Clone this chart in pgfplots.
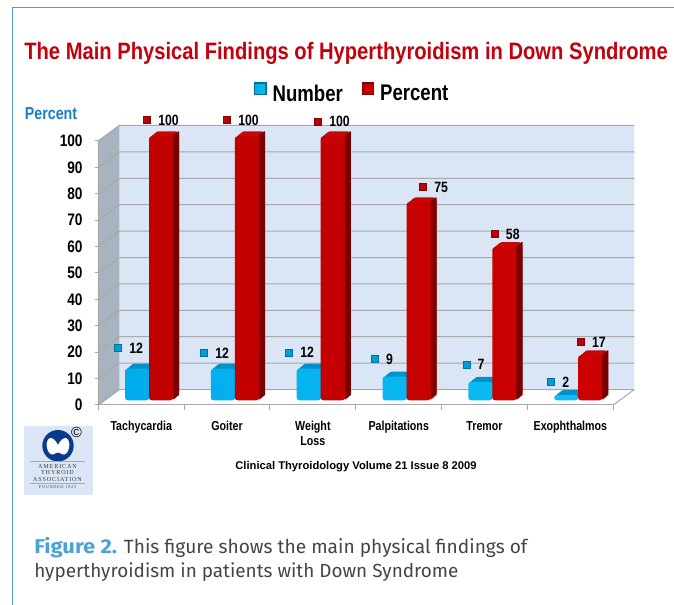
\documentclass[border=0pt]{standalone}
\usepackage{fontspec}
\usepackage{pgfplots}
\usepackage{pgfplotstable}
\pgfplotsset{compat=1.18}
\setmainfont{Liberation Sans}
\newfontfamily\condb[FakeStretch=0.82]{Liberation Sans}
\newfontfamily\titlef[FakeStretch=0.85]{Liberation Sans}
\newfontfamily\capf{Fira Sans}
\newfontfamily\capbf[FakeStretch=1.1]{Fira Sans}
\newfontfamily\logof[LetterSpace=14]{Liberation Serif}
\definecolor{framec}{HTML}{4A9FD4}
\definecolor{wallc}{HTML}{DAE6F5}
\definecolor{sidec}{HTML}{A9B3C0}
\definecolor{gridc}{HTML}{A8A8A8}
\definecolor{redf}{HTML}{C00000}
\definecolor{redl}{HTML}{CC0000}
\definecolor{redt}{HTML}{C80606}
\definecolor{reds}{HTML}{7A0000}
\definecolor{bluef}{HTML}{00ACEC}
\definecolor{bluel}{HTML}{10BCF4}
\definecolor{bluet}{HTML}{0091C9}
\definecolor{bluem}{HTML}{009FDA}
\definecolor{markb}{HTML}{04708F}
\definecolor{markr}{HTML}{7A0808}
\definecolor{titlec}{HTML}{C4000C}
\definecolor{perc}{HTML}{1A7CC8}
\definecolor{logob}{HTML}{0A3A8C}
\definecolor{capb}{HTML}{4BA3D3}
\definecolor{capg}{HTML}{454545}
\pgfplotstableread{
x y
0 12
1 12
2 12
3 9
4 7
5 2
}\numbertable
\pgfplotstableread{
x y
0 100
1 100
2 100
3 75
4 58
5 17
}\percenttable
\pgfplotstableread{
x y label
-0.267 21.6 12
0.735 19.6 12
1.725 19.8 12
2.724 17.3 9
3.792 15.3 7
4.778 8.7 2
}\numberlabels
\pgfplotstableread{
x y label
0.071 107.8 100
1.003 107.8 100
2.063 107.3 100
3.287 82.5 75
4.122 64.8 58
5.124 23.9 17
}\percentlabels
\begin{document}
\begin{tikzpicture}[x=0.75pt,y=-0.75pt]
\path[use as bounding box] (0,0) rectangle (674,605);
% page frame
\draw[framec,line width=0.9pt] (12.5,605) -- (12.5,7.5) -- (674,7.5);
\begin{axis}[
  at={(73.725pt,-303.75pt)},anchor=south west,
  scale only axis,width=386.25pt,height=198pt,
  xmin=-0.5,xmax=5.5,ymin=0,ymax=100,
  clip=false,
  axis x line*=bottom,axis y line*=left,
  axis line style={gridc,line width=0.75pt,-},
  xtick={0,1,2,3,4,5},
  xticklabels={\strut Tachycardia,\strut Goiter,{\strut Weight\\Loss},\strut Palpitations,\strut Tremor,\strut Exophthalmos},
  minor xtick={-0.5,0.5,1.5,2.5,3.5,4.5,5.5},
  ytick={0,10,...,100},
  tick align=outside,
  major tick length=2.25pt,minor tick length=3.75pt,
  major x tick style={draw=none},
  y tick style={gridc,line width=0.75pt},
  minor x tick style={gridc,line width=0.75pt},
  /pgf/number format/assume math mode=true,
  yticklabel style={font=\condb\bfseries\fontsize{12.5}{14}\selectfont,anchor=east,xshift=-6pt},
  xticklabel style={font=\condb\bfseries\fontsize{9.75}{11}\selectfont,align=center,anchor=north,yshift=-6pt},
  title={\titlef\bfseries\color{titlec}\fontsize{17.8}{20}\selectfont The Main Physical Findings of Hyperthyroidism in Down Syndrome},
  title style={at={(axis description cs:0.481,1.303)},anchor=center,yshift=0pt},
  ylabel={\condb\bfseries\color{perc}\fontsize{13}{14}\selectfont Percent},
  every axis y label/.style={at={(axis description cs:-0.0918,1.102)},anchor=center},
  legend style={at={(axis description cs:0.4936,1.1786)},anchor=center,draw=none,fill=none,
    legend columns=2,font=\condb\bfseries\fontsize{17}{19}\selectfont,
    /tikz/every even column/.append style={column sep=12pt}},
  legend cell align=left,
  nodes near coords style={font=\condb\bfseries\fontsize{11.2}{13}\selectfont,anchor=west,xshift=4.5pt,text=black},
]
% walls and floor
\addplot[forget plot,draw=gridc,line width=0.6pt,fill=sidec] coordinates {(-0.5,0) (-0.2553,5.87) (-0.2553,105.87) (-0.5,100) (-0.5,0)};
\addplot[forget plot,draw=none,fill=wallc] coordinates {(-0.2553,5.87) (5.7447,5.87) (5.7447,105.87) (-0.2553,105.87) (-0.2553,5.87)};
\addplot[forget plot,draw=gridc,line width=0.75pt] coordinates {(5.5,0) (5.7447,5.87)};
\pgfplotsinvokeforeach{0,10,...,100}{
  \addplot[forget plot,gridc,line width=0.75pt] coordinates {(-0.5,#1) (-0.2553,#1+5.87) (5.7447,#1+5.87)};
}
% Number: top face, then front face
\pgfplotsinvokeforeach{6,5,4,3,2,1}{
  \addplot[forget plot,ybar,bar width=18pt,bar shift=-3.15pt,draw=none,fill=bluet,rounded corners=2.5pt,
    xshift={#1*0.75pt},yshift={3.525pt+#1*0.625pt}] table[x=x,y=y] {\numbertable};
}
\addplot[ybar,bar width=18pt,bar shift=-3.15pt,draw=none,left color=bluef,right color=bluel,rounded corners=2pt,
    yshift=3.525pt,
    legend image code/.code={\path[sharp corners,draw=markb,line width=1pt,fill=bluem] (-6pt,-4pt) rectangle (2.5pt,4.5pt);\path (5.5pt,0pt);}]
    table[x=x,y=y] {\numbertable};
\addlegendentry{Number}
% Percent: top face, side face, then front face
\pgfplotsinvokeforeach{6,5,4,3,2,1}{
  \addplot[forget plot,ybar,bar width=18pt,bar shift=14.85pt,draw=none,fill=redt,rounded corners=2.5pt,
    xshift={#1*0.75pt},yshift={3.525pt+#1*0.625pt}] table[x=x,y=y] {\percenttable};
}
\pgfplotsinvokeforeach{6,5,4,3,2,1}{
  \addplot[forget plot,ybar,bar width=1pt,bar shift={23.85pt+#1*0.75pt-0.375pt},draw=none,fill=reds,
    yshift={3.525pt+#1*0.625pt}] table[x=x,y=y] {\percenttable};
}
\addplot[ybar,bar width=18pt,bar shift=14.85pt,draw=none,left color=redf,right color=redl,rounded corners=2pt,
    yshift=3.525pt,
    legend image code/.code={\path[sharp corners,draw=markr,line width=1pt,fill=redf] (-6pt,-4pt) rectangle (2.5pt,4.5pt);\path (5.5pt,0pt);}]
    table[x=x,y=y] {\percenttable};
\addlegendentry{Percent}
% value labels with their small markers
\addplot[forget plot,only marks,mark=square*,mark size=2.6pt,mark options={draw=markb,fill=bluem,line width=0.8pt},
    point meta=explicit symbolic,nodes near coords] table[x=x,y=y,meta=label] {\numberlabels};
\addplot[forget plot,only marks,mark=square*,mark size=2.6pt,mark options={draw=markr,fill=redf,line width=0.8pt},
    point meta=explicit symbolic,nodes near coords] table[x=x,y=y,meta=label] {\percentlabels};
\end{axis}
% source line
\node[anchor=center,font=\bfseries\fontsize{8.4}{10}\selectfont] at (356,467) {Clinical Thyroidology Volume 21 Issue 8 2009};
% society logo
\fill[wallc] (24,426) rectangle (93,495);
\fill[logob] (58,445.7) circle (15.7);
\fill[white] (58,445)
  .. controls (56,441) and (53,437.5) .. (50,438)
  .. controls (47,439) and (46,444) .. (47,448)
  .. controls (48,452) and (50,455) .. (53,454.5)
  .. controls (55,454) and (56,452.5) .. (58,452.5)
  .. controls (60,452.5) and (61,454) .. (63,454.5)
  .. controls (66,455) and (68,452) .. (69,448)
  .. controls (70,444) and (69,439) .. (66,438)
  .. controls (63,437.5) and (60,441) .. (58,445) -- cycle;
\draw[gridc,line width=0.3pt] (30,461.5) -- (85,461.5) (30,483.5) -- (85,483.5);
\node[font=\logof\fontsize{4.6}{5}\selectfont,text=black!75] at (57.5,466) {AMERICAN};
\node[font=\logof\fontsize{4.6}{5}\selectfont,text=black!75] at (57.5,472.5) {THYROID};
\node[font=\logof\fontsize{4.6}{5}\selectfont,text=black!75] at (57.5,479) {ASSOCIATION};
\node[font=\logof\fontsize{3.3}{4}\selectfont,text=black!70] at (57.5,487) {FOUNDED 1923};
\node[font=\fontsize{11}{12}\selectfont] at (76.5,432) {©};
% caption
\node[anchor=base west,inner sep=0pt,font=\capf\fontsize{14.35}{16}\selectfont,text=capg] at (34,553) {{\capbf\bfseries\fontsize{15}{16}\selectfont\color{capb}Figure 2.} This figure shows the main physical findings of};
\node[anchor=base west,inner sep=0pt,font=\capf\fontsize{14.2}{16}\selectfont,text=capg] at (34,577) {hyperthyroidism in patients with Down Syndrome};
\end{tikzpicture}
\end{document}
